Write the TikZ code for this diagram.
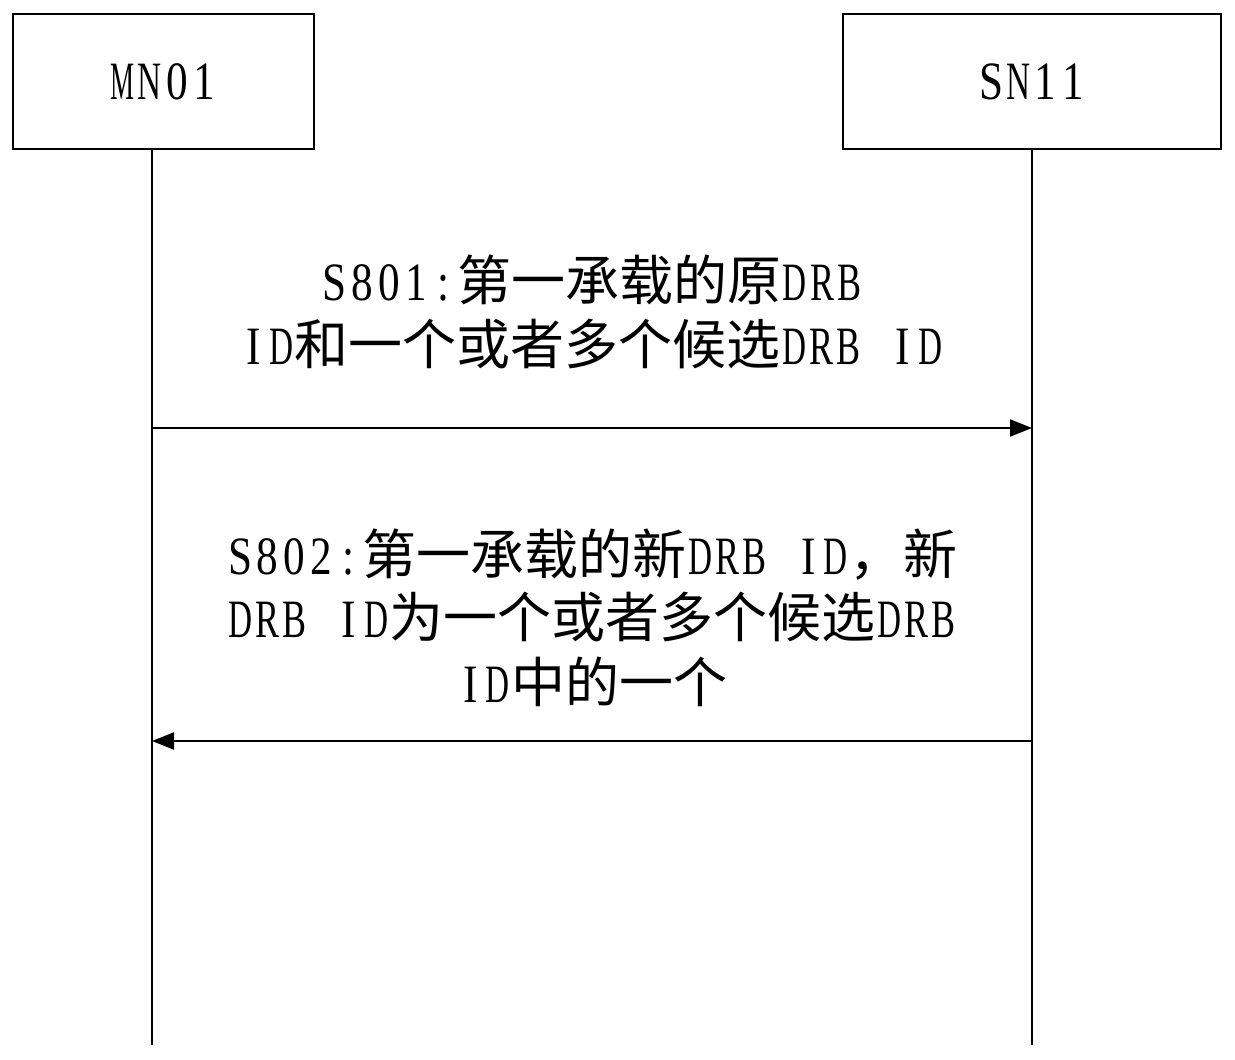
\documentclass[tikz,border=0pt]{standalone}
\usepackage{fontspec}
\usepackage{graphicx}
\newfontfamily\cjk{Noto Sans CJK SC}
\newfontfamily\lat[FakeStretch=0.8]{Liberation Serif}
\usetikzlibrary{arrows.meta}
\newsavebox\hwbox
\newcommand\hw[1]{\sbox\hwbox{\lat #1}%
  \ifdim\wd\hwbox>24pt\relax
    \makebox[27.2pt]{\resizebox{24pt}{\height}{\usebox\hwbox}}%
  \else
    \makebox[27.2pt]{\usebox\hwbox}%
  \fi}
\def\monoloop#1{\ifx\relax#1\else\hw{#1}\expandafter\monoloop\fi}
\newcommand\mono[1]{\monoloop#1\relax}
\begin{document}
\begin{tikzpicture}[x=1pt,y=-1pt,line width=2pt,
  ent/.style={draw,inner sep=0pt,font=\fontsize{54}{64}\selectfont},
  lbl/.style={anchor=base,inner sep=0pt,font=\fontsize{54}{64}\selectfont},
  msg/.style={-{Triangle[length=22pt,width=17pt]}}]
\useasboundingbox (0,0) rectangle (1235,1060);
\node[ent,minimum width=301pt,minimum height=135pt] (mn) at (163.5,81.5) {\mono{MN01}};
\node[ent,minimum width=378pt,minimum height=135pt] (sn) at (1032,81.5) {\mono{SN11}};
\coordinate (mnend) at (152,1045);
\coordinate (snend) at (1032,1045);
\draw (mn.south -| mnend) -- (mnend);
\draw (sn.south) -- (snend);
\coordinate (a1s) at (152,428);
\coordinate (a1e) at (1032,428);
\coordinate (a2s) at (1032,741);
\coordinate (a2e) at (152,741);
\draw[msg] (a1s) -- (a1e);
\draw[msg] (a2s) -- (a2e);
\node[lbl] (t1a) at (592,300) {\mono{S801:}{\cjk 第一承载的原}\mono{DRB}};
\node[lbl] (t1b) at (592,364) {\mono{ID}{\cjk 和一个或者多个候选}\mono{DRB~ID}};
\node[lbl] (t2a) at (592,574) {\mono{S802:}{\cjk 第一承载的新}\mono{DRB~ID}{\cjk ，新}};
\node[lbl] (t2b) at (592,637) {\mono{DRB~ID}{\cjk 为一个或者多个候选}\mono{DRB}};
\node[lbl] (t2c) at (592,702) {\mono{ID}{\cjk 中的一个}};
\end{tikzpicture}
\end{document}
